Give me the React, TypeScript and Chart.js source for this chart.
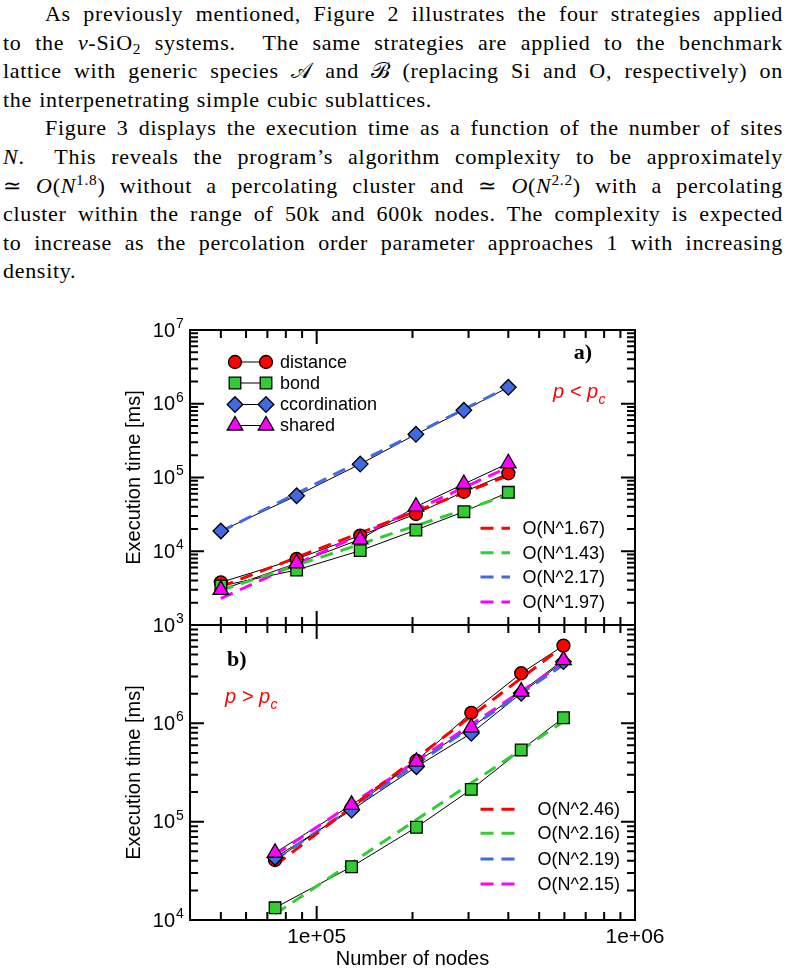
import React, { useEffect, useRef } from "react";
import { Chart, registerables } from "chart.js";

Chart.register(...registerables);

// ---- measurements, p < p_c ----
const nodesBelow = [50000, 86500, 137000, 205000, 290000, 400000];
const distanceBelow = [3790, 7850, 16300, 32000, 64100, 114000];
const bondBelow = [3380, 5570, 10200, 19400, 34400, 63000];
const coordinationBelow = [18800, 56600, 152000, 385000, 815000, 1670000];
const sharedBelow = [2990, 6870, 14500, 40200, 81600, 156000];
// power-law fits: exponent from the key, value at the first node count
const fitExponentBelow = [1.67, 1.43, 2.17, 1.97];
const fitStartBelow = [3300, 2950, 18500, 2290];

// ---- measurements, p > p_c ----
const nodesAbove = [74000, 128700, 205800, 306000, 439000, 596000];
const distanceAbove = [40700, 137000, 417000, 1280000, 3230000, 6170000];
const bondAbove = [13300, 34800, 87700, 213000, 536000, 1140000];
const coordinationAbove = [43300, 131000, 362000, 792000, 2020000, 4240000];
const sharedAbove = [48300, 148000, 407000, 912000, 2100000, 4400000];
const fitExponentAbove = [2.46, 2.16, 2.19, 2.15];
const fitStartAbove = [36000, 11500, 41000, 46000];

const seriesNames = ["distance", "bond", "ccordination", "shared"];
const xTickValues = [1e5, 1e6];
const xTickLabels = ["1e+05", "1e+06"];
const yLabelDecadesBelow = [3, 4, 5, 6, 7];
const yLabelDecadesAbove = [4, 5, 6];

const colors = ["#ff0000", "#32cd32", "#4169e1", "#ff00ff"];
const shapes = ["circle", "rect", "rectRot", "triangle"];
const radii = [6.5, 8.2, 7.8, 9];

const W = 789;
const H = 974;
const PLOT_LEFT = 190;
const PLOT_RIGHT = 635;
const X_MIN = 4e4;
const X_MAX = 1e6;
const SANS = '"Liberation Sans", Arial, Helvetica, sans-serif';
const SERIF = '"Liberation Serif", "Times New Roman", serif';

type PanelSpec = {
  nodes: number[];
  series: number[][];
  fitExp: number[];
  fitStart: number[];
  yMin: number;
  yMax: number;
  top: number;
  bottom: number;
  yLabels: number[];
  tag: string;
  tagX: number;
  tagY: number;
  tagAlign: CanvasTextAlign;
  relation: string;
  relX: number;
  relY: number;
  seriesKey: boolean;
  fitKeyRows: number[];
  fitKeyTextRight: number;
  fitKeySampleEnd: number;
  xAxisLabels: boolean;
};

const panels: PanelSpec[] = [
  {
    nodes: nodesBelow,
    series: [distanceBelow, bondBelow, coordinationBelow, sharedBelow],
    fitExp: fitExponentBelow,
    fitStart: fitStartBelow,
    yMin: 1e3,
    yMax: 1e7,
    top: 330,
    bottom: 625,
    yLabels: yLabelDecadesBelow,
    tag: "a)",
    tagX: 592,
    tagY: 353,
    tagAlign: "right",
    relation: "<",
    relX: 553,
    relY: 397.5,
    seriesKey: true,
    fitKeyRows: [528.3, 552.7, 577, 602],
    fitKeyTextRight: 605,
    fitKeySampleEnd: 510,
    xAxisLabels: false,
  },
  {
    nodes: nodesAbove,
    series: [distanceAbove, bondAbove, coordinationAbove, sharedAbove],
    fitExp: fitExponentAbove,
    fitStart: fitStartAbove,
    yMin: 1e4,
    yMax: 1e7,
    top: 625,
    bottom: 920,
    yLabels: yLabelDecadesAbove,
    tag: "b)",
    tagX: 227,
    tagY: 660,
    tagAlign: "left",
    relation: ">",
    relX: 225,
    relY: 703,
    seriesKey: false,
    fitKeyRows: [809.3, 833.3, 859, 884],
    fitKeyTextRight: 620,
    fitKeySampleEnd: 517,
    xAxisLabels: true,
  },
];

function drawMarker(ctx: CanvasRenderingContext2D, shape: string, x: number, y: number, r: number, fill: string) {
  ctx.beginPath();
  if (shape === "circle") {
    ctx.arc(x, y, r, 0, Math.PI * 2);
  } else if (shape === "rect") {
    const s = Math.SQRT1_2 * r;
    ctx.rect(x - s, y - s, 2 * s, 2 * s);
  } else if (shape === "rectRot") {
    ctx.moveTo(x - r, y);
    ctx.lineTo(x, y - r);
    ctx.lineTo(x + r, y);
    ctx.lineTo(x, y + r);
    ctx.closePath();
  } else {
    const a = (2 * Math.PI) / 3;
    ctx.moveTo(x, y - r);
    ctx.lineTo(x + Math.sin(a) * r, y - Math.cos(a) * r);
    ctx.lineTo(x + Math.sin(2 * a) * r, y - Math.cos(2 * a) * r);
    ctx.closePath();
  }
  ctx.fillStyle = fill;
  ctx.fill();
  ctx.lineWidth = 1.3;
  ctx.strokeStyle = "#000";
  ctx.stroke();
}

function axesPlugin(p: PanelSpec) {
  return {
    id: "framedAxes",
    afterDraw(chart: any) {
      const { ctx, chartArea: a } = chart;
      const xs = chart.scales.x;
      const ys = chart.scales.y;
      ctx.save();

      // frame and inward ticks on all four sides
      ctx.strokeStyle = "#000";
      ctx.lineWidth = 2;
      ctx.setLineDash([]);
      ctx.strokeRect(a.left, a.top, a.right - a.left, a.bottom - a.top);
      ctx.beginPath();
      for (let d = 4; d <= 6; d++) {
        for (let m = 1; m <= 9; m++) {
          const v = m * Math.pow(10, d);
          if (v <= X_MIN || v >= X_MAX) continue;
          const px = xs.getPixelForValue(v);
          const len = m === 1 ? 14 : 8;
          ctx.moveTo(px, a.top);
          ctx.lineTo(px, a.top + len);
          ctx.moveTo(px, a.bottom);
          ctx.lineTo(px, a.bottom - len);
        }
      }
      const dLo = Math.round(Math.log10(p.yMin));
      const dHi = Math.round(Math.log10(p.yMax));
      for (let d = dLo; d <= dHi; d++) {
        for (let m = 1; m <= 9; m++) {
          const v = m * Math.pow(10, d);
          if (v < p.yMin || v > p.yMax) continue;
          const py = ys.getPixelForValue(v);
          const len = m === 1 ? 14 : 8;
          ctx.moveTo(a.left, py);
          ctx.lineTo(a.left + len, py);
          ctx.moveTo(a.right, py);
          ctx.lineTo(a.right - len, py);
        }
      }
      ctx.stroke();

      // y tick labels 10^n
      ctx.fillStyle = "#000";
      for (const d of p.yLabels) {
        const py = ys.getPixelForValue(Math.pow(10, d));
        ctx.font = `20px ${SANS}`;
        ctx.textAlign = "right";
        ctx.textBaseline = "middle";
        ctx.fillText("10", 175, py + 1);
        ctx.font = `14px ${SANS}`;
        ctx.textAlign = "left";
        ctx.fillText(String(d), 176, py - 6);
      }

      // y axis title
      ctx.save();
      ctx.translate(134, (a.top + a.bottom) / 2);
      ctx.rotate(-Math.PI / 2);
      ctx.font = `20px ${SANS}`;
      ctx.textAlign = "center";
      ctx.textBaseline = "middle";
      ctx.fillText("Execution time [ms]", 0, 0);
      ctx.restore();

      // x tick labels and title
      if (p.xAxisLabels) {
        ctx.font = `21px ${SANS}`;
        ctx.textAlign = "center";
        ctx.textBaseline = "middle";
        xTickValues.forEach((v, i) => {
          ctx.fillText(xTickLabels[i], xs.getPixelForValue(v), 937);
        });
        ctx.font = `20px ${SANS}`;
        ctx.fillText("Number of nodes", (a.left + a.right) / 2, 959);
      }

      // panel tag
      ctx.font = `bold 22px ${SERIF}`;
      ctx.textAlign = p.tagAlign;
      ctx.textBaseline = "middle";
      ctx.fillText(p.tag, p.tagX, p.tagY);

      // percolation regime
      ctx.fillStyle = "#ff0000";
      ctx.font = `italic 20px ${SANS}`;
      ctx.textAlign = "left";
      ctx.textBaseline = "alphabetic";
      const rel = `p ${p.relation} p`;
      ctx.fillText(rel, p.relX, p.relY);
      const relW = ctx.measureText(rel).width;
      ctx.font = `italic 14px ${SANS}`;
      ctx.fillText("c", p.relX + relW + 0.5, p.relY + 6);

      // key for the measured series
      if (p.seriesKey) {
        const rows = [362, 383, 404.5, 425.5];
        seriesNames.forEach((name, i) => {
          const y = rows[i];
          ctx.strokeStyle = "#000";
          ctx.lineWidth = 1;
          ctx.beginPath();
          ctx.moveTo(235, y);
          ctx.lineTo(266, y);
          ctx.stroke();
          drawMarker(ctx, shapes[i], 235, y, radii[i], colors[i]);
          drawMarker(ctx, shapes[i], 266, y, radii[i], colors[i]);
          ctx.fillStyle = "#000";
          ctx.font = `18px ${SANS}`;
          ctx.textAlign = "left";
          ctx.textBaseline = "middle";
          ctx.fillText(name, 280, y + 1);
        });
      }

      // key for the power-law fits
      p.fitExp.forEach((e, i) => {
        const y = p.fitKeyRows[i];
        ctx.strokeStyle = colors[i];
        ctx.lineWidth = 3;
        ctx.setLineDash([13, 8]);
        ctx.beginPath();
        ctx.moveTo(480.5, y);
        ctx.lineTo(p.fitKeySampleEnd, y);
        ctx.stroke();
        ctx.setLineDash([]);
        ctx.fillStyle = "#000";
        ctx.font = `18px ${SANS}`;
        ctx.textAlign = "right";
        ctx.textBaseline = "middle";
        ctx.fillText(`O(N^${e.toFixed(2)})`, p.fitKeyTextRight, y + 1);
      });

      ctx.restore();
    },
  };
}

function buildChart(canvas: HTMLCanvasElement, p: PanelSpec) {
  const last = p.nodes.length - 1;
  const datasets: any[] = [];
  p.series.forEach((vals, i) => {
    datasets.push({
      label: seriesNames[i],
      data: p.nodes.map((x, j) => ({ x, y: vals[j] })),
      showLine: true,
      borderColor: "#000",
      borderWidth: 1,
      pointRadius: 0,
      order: 30,
    });
  });
  p.fitExp.forEach((e, i) => {
    const y0 = p.fitStart[i];
    datasets.push({
      label: `O(N^${e.toFixed(2)})`,
      data: [
        { x: p.nodes[0], y: y0 },
        { x: p.nodes[last], y: y0 * Math.pow(p.nodes[last] / p.nodes[0], e) },
      ],
      showLine: true,
      borderColor: colors[i],
      borderWidth: 3,
      borderDash: [13, 8],
      borderCapStyle: "butt",
      pointRadius: 0,
      order: 20,
    });
  });
  p.series.forEach((vals, i) => {
    datasets.push({
      label: seriesNames[i],
      data: p.nodes.map((x, j) => ({ x, y: vals[j] })),
      showLine: false,
      pointStyle: shapes[i],
      pointRadius: radii[i],
      pointBackgroundColor: colors[i],
      pointBorderColor: "#000",
      pointBorderWidth: 1.3,
      clip: false,
      order: 10 - i,
    });
  });

  return new Chart(canvas, {
    type: "scatter",
    data: { datasets },
    options: {
      responsive: false,
      maintainAspectRatio: false,
      animation: false,
      events: [],
      layout: {
        padding: { left: PLOT_LEFT, right: W - PLOT_RIGHT, top: p.top, bottom: H - p.bottom },
      },
      scales: {
        x: { type: "logarithmic", min: X_MIN, max: X_MAX, display: false },
        y: { type: "logarithmic", min: p.yMin, max: p.yMax, display: false },
      },
      plugins: { legend: { display: false }, tooltip: { enabled: false }, title: { display: false } },
    },
    plugins: [axesPlugin(p)],
  } as any);
}

function PanelCanvas({ spec }: { spec: PanelSpec }) {
  const ref = useRef<HTMLCanvasElement | null>(null);
  useEffect(() => {
    if (!ref.current) return;
    const chart = buildChart(ref.current, spec);
    return () => chart.destroy();
  }, [spec]);
  return (
    <canvas
      ref={ref}
      width={W}
      height={H}
      style={{ position: "absolute", left: 0, top: 0, width: W, height: H }}
    />
  );
}

const LINE_H = 28.6;

function TextLine({ children, indent = false, last = false }: { children: React.ReactNode; indent?: boolean; last?: boolean }) {
  return (
    <div
      style={{
        height: LINE_H,
        lineHeight: `${LINE_H}px`,
        paddingLeft: indent ? 42 : 0,
        textAlign: last ? "left" : "justify",
        textAlignLast: last ? "left" : "justify",
      } as React.CSSProperties}
    >
      {children}
    </div>
  );
}

const sub: React.CSSProperties = { fontSize: "70%", verticalAlign: "-0.25em", lineHeight: 0 };
const sup: React.CSSProperties = { fontSize: "70%", verticalAlign: "0.5em", lineHeight: 0 };

export default function App() {
  return (
    <div style={{ position: "absolute", left: 0, top: 0, width: W, height: H, background: "#fff" }}>
      <div
        style={{
          position: "absolute",
          left: 3,
          top: 0,
          width: 780,
          fontFamily: SERIF,
          fontSize: 22,
          letterSpacing: "0.7px",
          wordSpacing: "1px",
          color: "#000",
        }}
      >
        <TextLine indent>As previously mentioned, Figure 2 illustrates the four strategies applied</TextLine>
        <TextLine>
          to the <i>v</i>-SiO<span style={sub}>2</span> systems.&nbsp; The same strategies are applied to the benchmark
        </TextLine>
        <TextLine>
          lattice with generic species 𝒜 and ℬ (replacing Si and O, respectively) on
        </TextLine>
        <TextLine last>the interpenetrating simple cubic sublattices.</TextLine>
        <TextLine indent>Figure 3 displays the execution time as a function of the number of sites</TextLine>
        <TextLine>
          <i>N</i>.&nbsp; This reveals the program’s algorithm complexity to be approximately
        </TextLine>
        <TextLine>
          ≃ <i>O</i>(<i>N</i>
          <span style={sup}>1.8</span>) without a percolating cluster and ≃ <i>O</i>(<i>N</i>
          <span style={sup}>2.2</span>) with a percolating
        </TextLine>
        <TextLine>cluster within the range of 50k and 600k nodes. The complexity is expected</TextLine>
        <TextLine>to increase as the percolation order parameter approaches 1 with increasing</TextLine>
        <TextLine last>density.</TextLine>
      </div>
      {panels.map((p, i) => (
        <PanelCanvas key={i} spec={p} />
      ))}
    </div>
  );
}
